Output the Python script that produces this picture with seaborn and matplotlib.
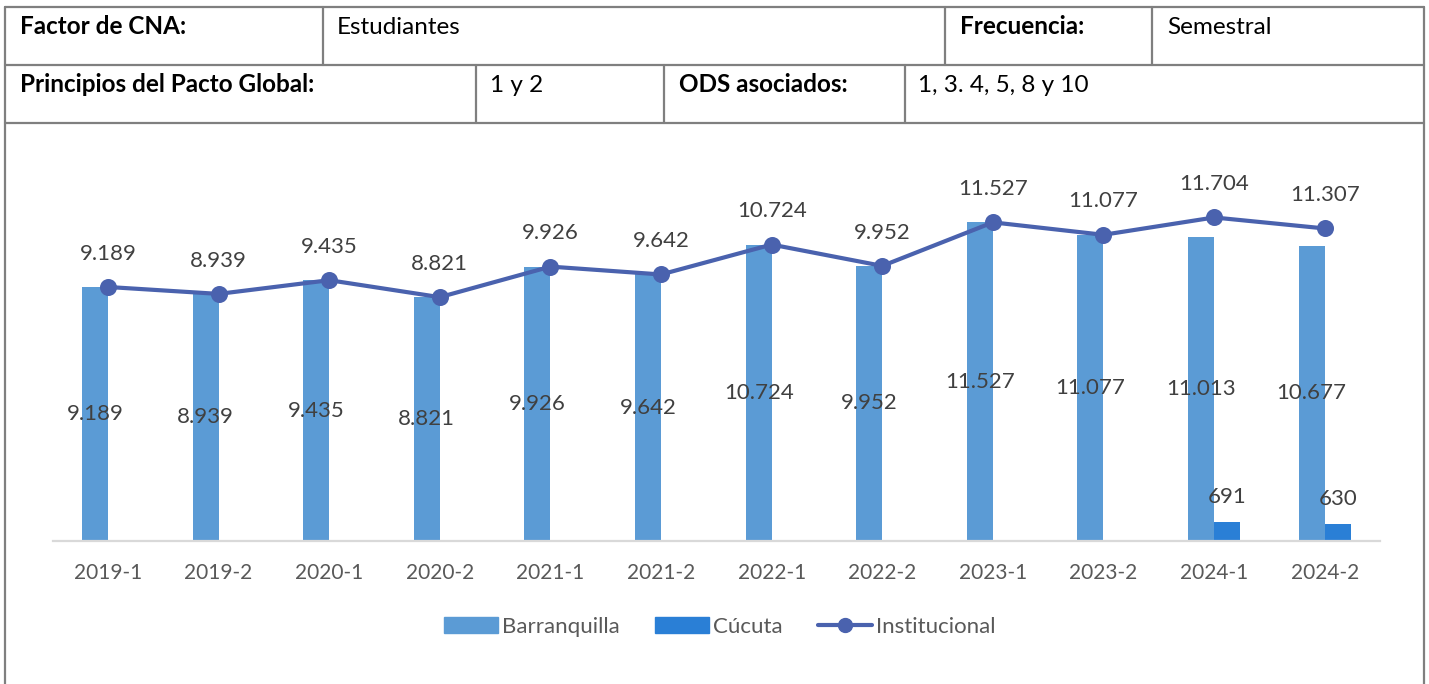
import numpy as np
import pandas as pd
import matplotlib.pyplot as plt
import seaborn as sns
from matplotlib.lines import Line2D
from matplotlib.patches import Patch

# --- data ---
periodos = ['2019-1', '2019-2', '2020-1', '2020-2', '2021-1', '2021-2',
            '2022-1', '2022-2', '2023-1', '2023-2', '2024-1', '2024-2']
barranquilla = [9189, 8939, 9435, 8821, 9926, 9642, 10724, 9952, 11527, 11077, 11013, 10677]
cucuta = [np.nan] * 10 + [691, 630]
institucional = [9189, 8939, 9435, 8821, 9926, 9642, 10724, 9952, 11527, 11077, 11704, 11307]

sedes = ['Barranquilla', 'Cúcuta']
colores = {'Barranquilla': '#5B9BD5', 'Cúcuta': '#2A7FD6'}
color_linea = '#4A62AE'
texto = '#404040'

# header table texts
fila1 = [('Factor de CNA:', True, 20), ('Estudiantes', False, 337),
         ('Frecuencia:', True, 960), ('Semestral', False, 1167)]
fila2 = [('Principios del Pacto Global:', True, 20), ('1 y 2', False, 490),
         ('ODS asociados:', True, 679), ('1, 3. 4, 5, 8 y 10', False, 918)]

sns.set_style('white')
plt.rcParams['font.family'] = ['Lato', 'DejaVu Sans']

W, H = 1429, 684
fig = plt.figure(figsize=(W / 100, H / 100), dpi=100)


def fx(px):
    return px / W


def fy(py):
    return 1 - py / H


# table borders
borde = dict(color='#7F7F7F', linewidth=1.6, transform=fig.transFigure)
for y in (7, 65, 123):
    fig.add_artist(Line2D([fx(5), fx(1424)], [fy(y), fy(y)], **borde))
fig.add_artist(Line2D([fx(5), fx(5)], [fy(7), fy(H + 5)], **borde))
fig.add_artist(Line2D([fx(1424), fx(1424)], [fy(7), fy(H + 5)], **borde))
for x in (323, 945, 1152):
    fig.add_artist(Line2D([fx(x), fx(x)], [fy(7), fy(65)], **borde))
for x in (476, 664, 905):
    fig.add_artist(Line2D([fx(x), fx(x)], [fy(65), fy(123)], **borde))

for fila, y in ((fila1, 27), (fila2, 85)):
    for txt, negrita, x in fila:
        fig.text(fx(x), fy(y), txt, fontsize=17.5, fontweight='bold' if negrita else 'normal',
                 color='black', va='center', ha='left')

# chart
ymax = 14000
base, top = 541, 154
ax = fig.add_axes([fx(52.7), fy(base), fx(1380 - 52.7), (base - top) / H])

df = pd.DataFrame({
    'periodo': periodos * 2,
    'sede': ['Barranquilla'] * len(periodos) + ['Cúcuta'] * len(periodos),
    'valor': barranquilla + cucuta,
})
sns.barplot(data=df, x='periodo', y='valor', hue='sede', hue_order=sedes,
            palette=colores, width=0.47, saturation=1, ax=ax, legend=False,
            order=periodos, edgecolor='none')

sns.pointplot(x=periodos, y=institucional, color=color_linea, ax=ax,
              markers='o', markersize=10, linewidth=3)


def fmt(v):
    return f'{v:,.0f}'.replace(',', '.')


# labels on bars
for cont, sede in zip(ax.containers[:2], sedes):
    for p in cont.patches:
        h = p.get_height()
        if np.isnan(h) or h == 0:
            continue
        cx = p.get_x() + p.get_width() / 2
        if sede == 'Barranquilla':
            ax.text(cx, h / 2, fmt(h), ha='center', va='center', fontsize=16, color=texto)
        else:
            ax.annotate(fmt(h), (cx, h), xytext=(0, 18), textcoords='offset points',
                        ha='center', va='center', fontsize=16, color=texto)

for i, v in enumerate(institucional):
    ax.annotate(fmt(v), (i, v), xytext=(0, 24), textcoords='offset points',
                ha='center', va='center', fontsize=16, color=texto)

ax.set_xlim(-0.5, len(periodos) - 0.5)
ax.set_ylim(0, ymax)
ax.set_xlabel('')
ax.set_ylabel('')
ax.set_yticks([])
ax.tick_params(axis='x', length=0, pad=16, labelsize=15, labelcolor='#595959')
sns.despine(ax=ax, left=True)
ax.spines['bottom'].set_color('#D9D9D9')
ax.spines['bottom'].set_linewidth(1.6)
ax.patch.set_alpha(0)

handles = [Patch(color=colores['Barranquilla']), Patch(color=colores['Cúcuta']),
           Line2D([], [], color=color_linea, lw=3, marker='o', markersize=10)]
fig.legend(handles, ['Barranquilla', 'Cúcuta', 'Institucional'], loc='center',
           bbox_to_anchor=(fx(720), fy(627)), ncol=3, frameon=False, fontsize=16,
           labelcolor='#595959', handlelength=2.4, handletextpad=0.2, columnspacing=1.6)

fig.savefig('out.png', dpi=100)
